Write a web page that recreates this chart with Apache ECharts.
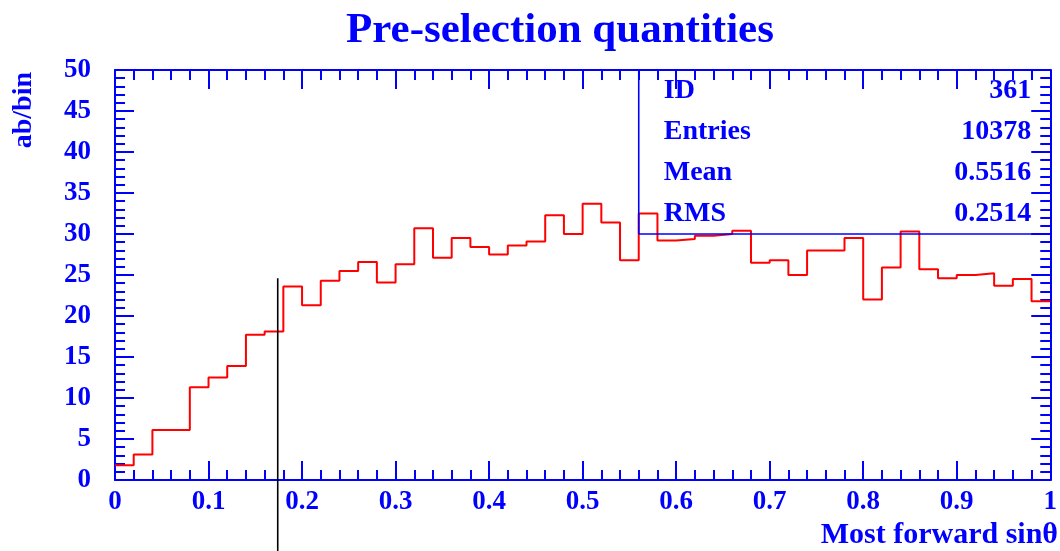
<!DOCTYPE html>
<html>
<head>
<meta charset="utf-8">
<title>Pre-selection quantities</title>
<script src="https://cdn.jsdelivr.net/npm/echarts@6/dist/echarts.min.js"></script>
<style>
  html, body { margin: 0; padding: 0; background: #ffffff; }
  #chart { width: 1060px; height: 551px; }
</style>
</head>
<body>
<div id="chart"></div>
<script>
// Histogram 361: most forward sin(theta), 50 bins on [0, 1]
const binWidth = 0.02;
const binCounts = [
  1.8, 3.1, 6.1, 6.1, 11.3, 12.5, 13.9, 17.7, 18.1, 23.6,
  21.3, 24.3, 25.5, 26.6, 24.1, 26.3, 30.7, 27.1, 29.5, 28.4,
  27.5, 28.6, 29.1, 32.3, 30.0, 33.7, 31.4, 26.8, 32.5, 29.2,
  29.4, 29.8, 30.0, 30.4, 26.5, 26.8, 25.0, 28.0, 28.0, 29.5,
  22.0, 25.9, 30.3, 25.7, 24.6, 25.0, 25.2, 23.7, 24.5, 21.8
];

// Statistics box contents
const statNames = ['ID', 'Entries', 'Mean', 'RMS'];
const statValues = ['361', '10378', '0.5516', '0.2514'];
const statBoxCorner = [0.56, 30];   // lower-left corner of the box, in axis units

// Selection cut marker
const cutPosition = 0.174;
const cutTop = 24.6;

const xRange = [0, 1];
const yRange = [0, 50];

const BLUE = '#0000ff';
const RED = '#ff0000';
const SERIF = '"Liberation Serif", "DejaVu Serif", serif';

// Step outline: one point at each bin's left edge, plus the closing right edge
const stepPoints = binCounts.map((v, i) => [+(i * binWidth).toFixed(4), v]);
stepPoints.push([xRange[1], binCounts[binCounts.length - 1]]);

const chart = echarts.init(document.getElementById('chart'), null, { renderer: 'canvas' });

function axisCommon(extra) {
  return Object.assign({
    type: 'value',
    axisLine: { show: true, onZero: false, lineStyle: { color: BLUE, width: 2 } },
    axisTick: { show: true, inside: true, length: 19, lineStyle: { color: BLUE, width: 2 } },
    minorTick: { show: true, splitNumber: 5, length: 10, lineStyle: { color: BLUE, width: 2 } },
    splitLine: { show: false },
    minorSplitLine: { show: false },
    axisLabel: {
      color: BLUE, fontFamily: SERIF, fontWeight: 'bold', fontSize: 27
    }
  }, extra);
}

const option = {
  animation: false,
  backgroundColor: '#ffffff',
  title: {
    text: 'Pre-selection quantities',
    left: 341,
    top: 4,
    textStyle: { color: BLUE, fontFamily: SERIF, fontWeight: 'bold', fontSize: 43 }
  },
  grid: { left: 115, right: 5, top: 70, bottom: 71, containLabel: false },
  xAxis: [
    axisCommon({ min: xRange[0], max: xRange[1], interval: 0.1, position: 'bottom',
      axisLabel: { color: BLUE, fontFamily: SERIF, fontWeight: 'bold', fontSize: 27, margin: 9 } }),
    axisCommon({ min: xRange[0], max: xRange[1], interval: 0.1, position: 'top',
      axisLabel: { show: false } })
  ],
  yAxis: [
    axisCommon({ min: yRange[0], max: yRange[1], interval: 5, position: 'left',
      axisLabel: { color: BLUE, fontFamily: SERIF, fontWeight: 'bold', fontSize: 27, margin: 24 } }),
    axisCommon({ min: yRange[0], max: yRange[1], interval: 5, position: 'right',
      axisLabel: { show: false } })
  ],
  graphic: [
    {
      type: 'text',
      x: 23.5, y: 72,
      rotation: Math.PI / 2,
      style: {
        text: 'ab/bin', fill: BLUE, font: 'bold 28px ' + SERIF,
        align: 'right', verticalAlign: 'middle'
      }
    },
    {
      type: 'text',
      right: 2, top: 520,
      style: {
        text: 'Most forward sin\u03b8', fill: BLUE, font: 'bold 30px ' + SERIF
      }
    }
  ],
  series: [
    {
      name: 'h361',
      type: 'line',
      step: 'end',
      data: stepPoints,
      showSymbol: false,
      symbol: 'none',
      lineStyle: { color: RED, width: 2 },
      xAxisIndex: 0, yAxisIndex: 0,
      z: 3
    },
    {
      // statistics box: frame lines and label rows
      type: 'custom',
      coordinateSystem: 'cartesian2d',
      xAxisIndex: 0, yAxisIndex: 0,
      clip: false,
      data: [[statBoxCorner[0], statBoxCorner[1]]],
      z: 4,
      renderItem: function (params, api) {
        const corner = api.coord([statBoxCorner[0], statBoxCorner[1]]);
        const topLeft = api.coord([statBoxCorner[0], yRange[1]]);
        const right = api.coord([xRange[1], statBoxCorner[1]]);
        const children = [
          { type: 'line', shape: { x1: topLeft[0], y1: topLeft[1], x2: corner[0], y2: corner[1] },
            style: { stroke: BLUE, lineWidth: 1.6 } },
          { type: 'line', shape: { x1: corner[0], y1: corner[1], x2: right[0], y2: right[1] },
            style: { stroke: BLUE, lineWidth: 1.6 } }
        ];
        const rows = statNames.length;
        const rowStep = (yRange[1] - statBoxCorner[1]) / rows;
        for (let i = 0; i < rows; i++) {
          const yVal = yRange[1] - rowStep * (i + 0.5);
          const p = api.coord([statBoxCorner[0], yVal]);
          children.push({
            type: 'text',
            style: { text: statNames[i], x: corner[0] + 25, y: p[1],
              fill: BLUE, font: 'bold 28px ' + SERIF, textAlign: 'left', textVerticalAlign: 'middle' }
          });
          children.push({
            type: 'text',
            style: { text: statValues[i], x: right[0] - 19, y: p[1],
              fill: BLUE, font: 'bold 28px ' + SERIF, textAlign: 'right', textVerticalAlign: 'middle' }
          });
        }
        return { type: 'group', children: children };
      }
    },
    {
      // selection cut marker, running down past the axis
      type: 'custom',
      coordinateSystem: 'cartesian2d',
      xAxisIndex: 0, yAxisIndex: 0,
      clip: false,
      data: [[cutPosition, cutTop]],
      z: 5,
      renderItem: function (params, api) {
        const top = api.coord([api.value(0), api.value(1)]);
        return {
          type: 'line',
          shape: { x1: top[0], y1: top[1], x2: top[0], y2: api.getHeight() },
          style: { stroke: '#000000', lineWidth: 1.6 }
        };
      }
    }
  ]
};

chart.setOption(option);
</script>
</body>
</html>
